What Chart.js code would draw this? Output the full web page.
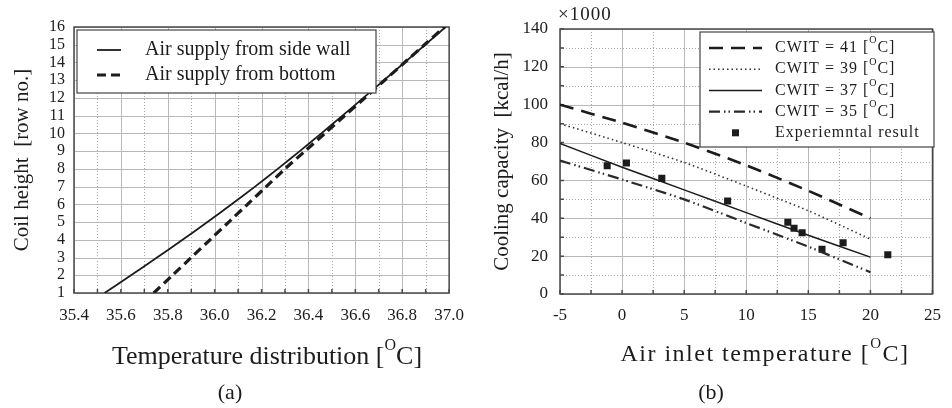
<!DOCTYPE html>
<html>
<head>
<meta charset="utf-8">
<script src="https://cdn.jsdelivr.net/npm/chart.js@4"></script>
<style>
  html, body { margin: 0; padding: 0; background: #fff; }
  .wrap { position: absolute; top: 0; height: 408px; overflow: hidden; }
  #wrapA { left: 0; width: 470px; }
  #wrapB { left: 476px; width: 476px; }
</style>
</head>
<body>
<div class="wrap" id="wrapA"><canvas id="chartA" width="476" height="408"></canvas></div>
<div class="wrap" id="wrapB"><canvas id="chartB" width="476" height="408"></canvas></div>
<script>
// (a) coil height vs temperature
const rowNo = [1, 2, 3, 4, 5, 6, 7, 8, 9, 10, 11, 12, 13, 14, 15, 16];
const tempSideWall = [35.53, 35.643, 35.754, 35.863, 35.969, 36.072, 36.172, 36.269, 36.363, 36.455, 36.545, 36.634, 36.722, 36.81, 36.898, 36.985];
const tempBottom = [35.74, 35.82, 35.90, 35.98, 36.06, 36.14, 36.22, 36.30, 36.385, 36.47, 36.555, 36.64, 36.725, 36.81, 36.895, 36.98];
const tempTicks = [35.4, 35.6, 35.8, 36.0, 36.2, 36.4, 36.6, 36.8, 37.0];
const tempMinorTicks = [35.5, 35.7, 35.9, 36.1, 36.3, 36.5, 36.7, 36.9];

// (b) cooling capacity vs air inlet temperature (x1000 kcal/h)
const airInlet = [-5, 0, 5, 10, 15, 20];
const cwit41 = [100, 90.5, 80, 68, 54.5, 40];
const cwit39 = [90, 80, 69.5, 57, 44, 29];
const cwit37 = [79.5, 67, 55, 43, 31, 19.5];
const cwit35 = [70.5, 60.5, 50, 37.5, 25, 11.5];
const expAirInlet = [-1.2, 0.35, 3.2, 8.5, 13.35, 13.85, 14.5, 16.1, 17.8, 21.4];
const expCapacity = [67.8, 69.2, 61.1, 49.1, 37.9, 34.7, 32.4, 23.6, 27.1, 20.7];
const airTicks = [-5, 0, 5, 10, 15, 20, 25];
const airMinorTicks = [-2.5, 2.5, 7.5, 12.5, 17.5, 22.5];
const capTicks = [0, 20, 40, 60, 80, 100, 120, 140];
const capMinorTicks = [10, 30, 50, 70, 90, 110, 130];

const FONT = "'Liberation Serif', 'Times New Roman', serif";
const INK = '#1c1c1c';
const GRID = '#b8b8b8';
const MINOR = '#a6a6a6';

Chart.defaults.font.family = FONT;
Chart.defaults.color = INK;
Chart.defaults.animation = false;

const pts = (xs, ys) => xs.map((x, i) => ({ x, y: ys[i] }));
const setTicks = (list) => (scale) => { scale.ticks = list.map((v) => ({ value: v })); };

// 위첨자 O 처리: '°' 를 작은 O 로 올려서 그림
function drawRich(ctx, text, x, y, size, align, spacing) {
  const big = size + 'px ' + FONT;
  const small = Math.round(size * 0.62) + 'px ' + FONT;
  ctx.letterSpacing = spacing || '0px';
  const parts = text.split('°');
  let w = 0;
  parts.forEach((p, i) => {
    ctx.font = big; w += ctx.measureText(p).width;
    if (i < parts.length - 1) { ctx.font = small; w += ctx.measureText('O').width; }
  });
  let cx = align === 'center' ? x - w / 2 : x;
  ctx.textAlign = 'left';
  ctx.textBaseline = 'middle';
  parts.forEach((p, i) => {
    ctx.font = big; ctx.fillText(p, cx, y); cx += ctx.measureText(p).width;
    if (i < parts.length - 1) {
      ctx.font = small; ctx.fillText('O', cx, y - size * 0.45); cx += ctx.measureText('O').width;
    }
  });
  ctx.letterSpacing = '0px';
}

// 흰 배경 + 격자(스케일 눈금 위치) — 데이터셋 그리기 직전
function gridPlugin(cfg) {
  return {
    id: 'gridFill',
    beforeDraw(chart) {
      const ctx = chart.ctx;
      ctx.save();
      ctx.fillStyle = '#ffffff';
      ctx.fillRect(0, 0, chart.width, chart.height);
      ctx.restore();
    },
    beforeDatasetsDraw(chart) {
      const { ctx, chartArea: a } = chart;
      ctx.save();
      cfg.grids.forEach((g) => {
        const s = chart.scales[g.id];
        ctx.strokeStyle = g.color;
        ctx.lineWidth = 1;
        ctx.setLineDash(g.dotted ? [1, 2] : []);
        ctx.beginPath();
        s.ticks.forEach((t) => {
          const p = Math.round(s.getPixelForValue(t.value)) + 0.5;
          if (s.isHorizontal()) { ctx.moveTo(p, a.top); ctx.lineTo(p, a.bottom); }
          else { ctx.moveTo(a.left, p); ctx.lineTo(a.right, p); }
        });
        ctx.stroke();
      });
      ctx.restore();
    },
  };
}

// 안쪽 눈금 + 테두리
function framePlugin(cfg) {
  return {
    id: 'frame',
    beforeDatasetsDraw(chart) {
      const { ctx, chartArea: a } = chart;
      ctx.save();
      ctx.strokeStyle = '#4a4a4a';
      ctx.lineWidth = 1.5;
      ctx.beginPath();
      cfg.xTicks.forEach((id) => chart.scales[id].ticks.forEach((t) => {
        const px = chart.scales[id].getPixelForValue(t.value);
        ctx.moveTo(px, a.bottom); ctx.lineTo(px, a.bottom - 4);
      }));
      cfg.yTicks.forEach((id) => chart.scales[id].ticks.forEach((t) => {
        const py = chart.scales[id].getPixelForValue(t.value);
        ctx.moveTo(a.left, py); ctx.lineTo(a.left + 4, py);
      }));
      ctx.stroke();
      ctx.strokeRect(a.left, a.top, a.right - a.left, a.bottom - a.top);
      ctx.restore();
    },
  };
}

function boxLegend(cfg) {
  return {
    id: 'boxLegend',
    afterDatasetsDraw(chart) {
      const ctx = chart.ctx;
      ctx.save();
      ctx.fillStyle = '#fff';
      ctx.fillRect(cfg.left, cfg.top, cfg.width, cfg.height);
      ctx.strokeStyle = '#444';
      ctx.lineWidth = 1.2;
      ctx.strokeRect(cfg.left, cfg.top, cfg.width, cfg.height);
      chart.data.datasets.forEach((ds, i) => {
        const y = cfg.firstRow + i * cfg.rowGap;
        if (ds.showLine === false) {
          const s = cfg.markSize;
          ctx.fillStyle = ds.backgroundColor;
          ctx.fillRect((cfg.x0 + cfg.x1) / 2 - s / 2, y - s / 2, s, s);
        } else {
          ctx.beginPath();
          ctx.setLineDash(ds.borderDash || []);
          ctx.lineWidth = ds.borderWidth;
          ctx.strokeStyle = ds.borderColor;
          ctx.moveTo(cfg.x0, y); ctx.lineTo(cfg.x1, y);
          ctx.stroke();
          ctx.setLineDash([]);
        }
        ctx.fillStyle = INK;
        drawRich(ctx, ds.label, cfg.textX, y, cfg.fontSize, 'left', cfg.spacing);
      });
      ctx.restore();
    },
  };
}

function textPlugin(items) {
  return {
    id: 'texts',
    afterDraw(chart) {
      const ctx = chart.ctx;
      ctx.save();
      ctx.fillStyle = INK;
      items.forEach((t) => drawRich(ctx, t.text, t.x, t.y, t.size, t.align || 'center', t.spacing));
      ctx.restore();
    },
  };
}

const noGrid = { display: false, drawTicks: false };

// ---------- (a) ----------
new Chart(document.getElementById('chartA'), {
  type: 'scatter',
  data: {
    datasets: [
      {
        label: 'Air supply from side wall',
        data: pts(tempSideWall, rowNo),
        showLine: true, borderColor: INK, borderWidth: 1.8,
        pointRadius: 0, tension: 0.3,
      },
      {
        label: 'Air supply from bottom',
        data: pts(tempBottom, rowNo),
        showLine: true, borderColor: INK, borderWidth: 3.2, borderDash: [9, 5],
        pointRadius: 0, tension: 0.3,
      },
    ],
  },
  options: {
    responsive: false,
    layout: { autoPadding: false, padding: { left: 0, right: 19, top: 27, bottom: 0 } },
    plugins: { legend: { display: false }, tooltip: { enabled: false } },
    scales: {
      xMinor: {
        type: 'linear', position: 'bottom', min: 35.4, max: 37.0,
        afterBuildTicks: setTicks(tempMinorTicks),
        afterFit: (s) => { s.height = 0; },
        ticks: { display: false },
        grid: noGrid,
        border: { display: false },
      },
      x: {
        type: 'linear', position: 'bottom', min: 35.4, max: 37.0,
        afterBuildTicks: setTicks(tempTicks),
        afterFit: (s) => { s.height = 115; },
        ticks: { autoSkip: false, maxRotation: 0, padding: 12, font: { size: 17 }, callback: (v) => v.toFixed(1) },
        grid: noGrid,
        border: { display: false },
      },
      y: {
        type: 'linear', position: 'left', min: 1, max: 16,
        afterBuildTicks: setTicks(rowNo),
        afterFit: (s) => { s.width = 74; },
        ticks: { autoSkip: false, padding: 9, font: { size: 16, lineHeight: 1 } },
        grid: noGrid,
        border: { display: false },
        title: { display: true, text: 'Coil height  [row no.]', font: { size: 21 }, padding: { top: 10 } },
      },
    },
  },
  plugins: [
    gridPlugin({
      grids: [
        { id: 'xMinor', color: MINOR, dotted: true },
        { id: 'x', color: GRID },
        { id: 'y', color: GRID },
      ],
    }),
    framePlugin({ xTicks: ['x', 'xMinor'], yTicks: [] }),
    boxLegend({ left: 77, top: 30, width: 299, height: 63, firstRow: 50, rowGap: 25, x0: 97, x1: 121, textX: 145, fontSize: 20 }),
    textPlugin([
      { text: 'Temperature distribution [°C]', x: 267, y: 357, size: 26 },
      { text: '(a)', x: 230, y: 393, size: 22 },
    ]),
  ],
});

// ---------- (b) ----------
new Chart(document.getElementById('chartB'), {
  type: 'scatter',
  data: {
    datasets: [
      {
        label: 'CWIT = 41 [°C]', data: pts(airInlet, cwit41), showLine: true,
        borderColor: INK, borderWidth: 2.6, borderDash: [14, 8], pointRadius: 0, tension: 0.2,
      },
      {
        label: 'CWIT = 39 [°C]', data: pts(airInlet, cwit39), showLine: true,
        borderColor: '#333', borderWidth: 1.6, borderDash: [1.5, 3], pointRadius: 0, tension: 0.2,
      },
      {
        label: 'CWIT = 37 [°C]', data: pts(airInlet, cwit37), showLine: true,
        borderColor: INK, borderWidth: 1.5, pointRadius: 0, tension: 0.2,
      },
      {
        label: 'CWIT = 35 [°C]', data: pts(airInlet, cwit35), showLine: true,
        borderColor: '#2a2a2a', borderWidth: 2.2, borderDash: [11, 4, 1.5, 3, 1.5, 4], pointRadius: 0, tension: 0.2,
      },
      {
        label: 'Experiemntal result', data: pts(expAirInlet, expCapacity), showLine: false,
        pointStyle: 'rect', pointRadius: 5, backgroundColor: INK, borderWidth: 0,
      },
    ],
  },
  options: {
    responsive: false,
    layout: { autoPadding: false, padding: { left: 0, right: 15, top: 29, bottom: 0 } },
    plugins: { legend: { display: false }, tooltip: { enabled: false } },
    scales: {
      xMinor: {
        type: 'linear', position: 'bottom', min: -5, max: 25,
        afterBuildTicks: setTicks(airMinorTicks),
        afterFit: (s) => { s.height = 0; },
        ticks: { display: false },
        grid: noGrid,
        border: { display: false },
      },
      yMinor: {
        type: 'linear', position: 'left', min: 0, max: 140,
        afterBuildTicks: setTicks(capMinorTicks),
        afterFit: (s) => { s.width = 0; },
        ticks: { display: false },
        grid: noGrid,
        border: { display: false },
      },
      x: {
        type: 'linear', position: 'bottom', min: -5, max: 25,
        afterBuildTicks: setTicks(airTicks),
        afterFit: (s) => { s.height = 114; },
        ticks: { autoSkip: false, maxRotation: 0, padding: 11, font: { size: 17 } },
        grid: noGrid,
        border: { display: false },
      },
      y: {
        type: 'linear', position: 'left', min: 0, max: 140,
        afterBuildTicks: setTicks(capTicks),
        afterFit: (s) => { s.width = 84; },
        ticks: { autoSkip: false, padding: 12, font: { size: 17 } },
        grid: noGrid,
        border: { display: false },
        title: { display: true, text: 'Cooling capacity  [kcal/h]', font: { size: 21 }, padding: { top: 14 } },
      },
    },
  },
  plugins: [
    gridPlugin({
      grids: [
        { id: 'xMinor', color: MINOR, dotted: true },
        { id: 'yMinor', color: MINOR, dotted: true },
        { id: 'x', color: GRID },
        { id: 'y', color: GRID },
      ],
    }),
    framePlugin({ xTicks: ['x', 'xMinor'], yTicks: ['y', 'yMinor'] }),
    boxLegend({ left: 224, top: 32, width: 234, height: 115, firstRow: 48, rowGap: 21.2, x0: 233, x1: 286, textX: 299, fontSize: 16, spacing: '1px', markSize: 7 }),
    textPlugin([
      { text: '×1000', x: 82, y: 15, size: 19, align: 'left', spacing: '1px' },
      { text: 'Air inlet temperature [°C]', x: 289, y: 355, size: 24, spacing: '1.5px' },
      { text: '(b)', x: 235, y: 393, size: 22 },
    ]),
  ],
});
</script>
</body>
</html>
